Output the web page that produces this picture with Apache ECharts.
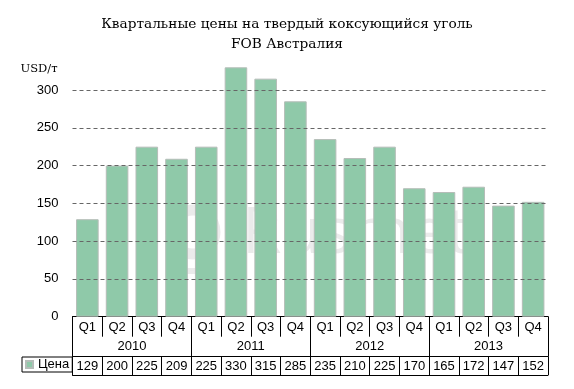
<!DOCTYPE html>
<html><head><meta charset="utf-8">
<script src="https://cdn.jsdelivr.net/npm/echarts@6/dist/echarts.min.js"></script>
<style>html,body{margin:0;padding:0;background:#fff}#c{width:574px;height:389px}</style>
</head><body><div id="c"></div>
<script>
const quarters = ['Q1','Q2','Q3','Q4','Q1','Q2','Q3','Q4','Q1','Q2','Q3','Q4','Q1','Q2','Q3','Q4'];
const years = ['2010','2011','2012','2013'];
const prices = [129,200,225,209,225,330,315,285,235,210,225,170,165,172,147,152];
const seriesName = 'Цена';
const yTicks = [0,50,100,150,200,250,300];
const yUnit = 'USD/т';

const green = '#8fc9a9';
const chart = echarts.init(document.getElementById('c'));
const txt = {color:'#000', fontFamily:'Liberation Sans, Arial', fontSize:13};
chart.setOption({
  animation:false,
  title:{
    text:'Квартальные цены на твердый коксующийся уголь\nFOB Австралия',
    left:'center', top:9,
    textStyle:{fontFamily:'DejaVu Serif', fontSize:13.7, fontWeight:'normal', color:'#000', lineHeight:20}
  },
  legend:{
    data:[seriesName], left:22, top:357, orient:'horizontal',
    borderColor:'#000', borderWidth:1, padding:[1,3,1,3],
    itemWidth:7, itemHeight:7, itemGap:0, icon:'rect',
    textStyle:{...txt}
  },
  grid:{left:72.5, right:26, top:52.2, bottom:72.3},
  yAxis:{
    type:'value', min:0, max:350, interval:50, z:3,
    axisLine:{show:false}, axisTick:{show:false},
    axisLabel:{
      margin:14, ...txt,
      formatter:v => v===350 ? '{u|'+yUnit+'}' : (yTicks.includes(v)? String(v):''),
      rich:{u:{fontFamily:'DejaVu Serif', fontSize:11.5, color:'#000', padding:[34,1,0,0]}}
    },
    splitLine:{show:true, showMinLine:false, showMaxLine:false, lineStyle:{color:'#666', type:[4,3], width:1}}
  },
  xAxis:[
    {type:'category', data:quarters, position:'bottom', offset:0,
     axisLine:{show:true, lineStyle:{color:'#000', width:1}},
     axisTick:{show:true, length:20, interval:0, lineStyle:{color:'#000'}},
     axisLabel:{...txt, margin:4, interval:0}},
    {type:'category', data:years, position:'bottom', offset:0,
     axisLine:{show:false},
     axisTick:{show:true, length:40, interval:0, lineStyle:{color:'#000'}},
     axisLabel:{...txt, margin:23, interval:0}},
    {type:'category', data:prices.map(String), position:'bottom', offset:40,
     axisLine:{show:true, lineStyle:{color:'#000', width:1}},
     axisTick:{show:true, length:18.3, interval:0, lineStyle:{color:'#000'}},
     axisLabel:{...txt, margin:3, interval:0}},
    {type:'category', data:quarters, position:'bottom', offset:58.3,
     axisLine:{show:true, lineStyle:{color:'#000', width:1}},
     axisTick:{show:false}, axisLabel:{show:false}}
  ],
  graphic:[
    {type:'text', left:242, top:203, z:-1, style:{text:'Rusmet', fontFamily:'Open Sans', fontSize:64, fill:'rgba(120,120,120,0.15)'}},
    {type:'circle', shape:{cx:193, cy:232, r:22}, z:-1, style:{fill:'none', stroke:'rgba(120,120,120,0.15)', lineWidth:11}},
    {type:'rect', shape:{x:172, y:268, width:42, height:6}, z:-1, style:{fill:'rgba(120,120,120,0.15)'}}
  ],
  series:[{
    name:seriesName, type:'bar', data:prices, xAxisIndex:0, barCategoryGap:'24%', z:2,
    itemStyle:{color:green, borderColor:'#b5bdb8', borderWidth:1}
  }]
});
</script></body></html>
